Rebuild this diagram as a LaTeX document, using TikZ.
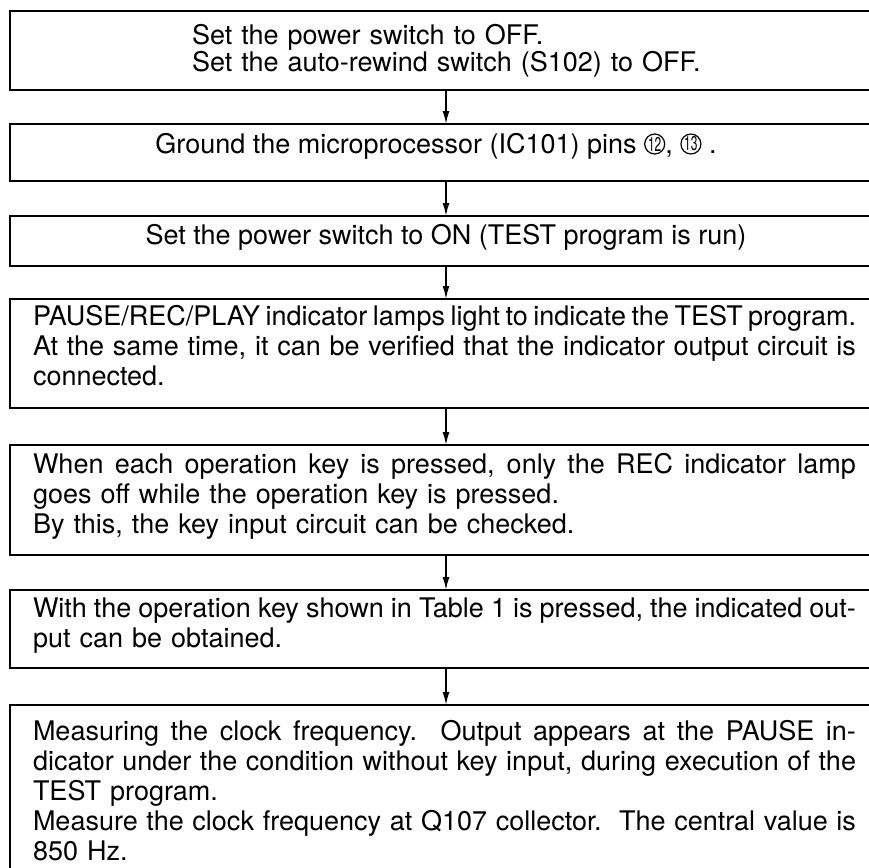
\documentclass[tikz,border=0pt]{standalone}
\usepackage{fontspec}
\setmainfont{TeX Gyre Heros}
\usetikzlibrary{arrows.meta}
\newcommand\circnum[1]{\tikz[baseline=-9pt,x=1pt,y=1pt]{\draw[line width=1.2pt] (0,0) circle (10pt); \path (0,0) node[inner sep=0pt,anchor=center]{\fontsize{20}{20}\selectfont\scalebox{0.6}[1]{#1}};}}
\newcommand\jl[1]{\makebox[823pt][s]{\spaceskip=0.278em plus 1.5em minus 0.12em\relax #1}}
\begin{document}
\begin{tikzpicture}[x=1pt,y=-1pt,
  box/.style={draw,line width=1.7pt,anchor=north west,minimum width=880pt,inner sep=0pt,outer sep=0pt},
  txt/.style={inner sep=0pt,outer sep=0pt,font=\fontsize{27}{30}\selectfont},
  para/.style={txt,anchor=base west,text width=823pt,align=left},
  arr/.style={line width=1.6pt,-{Latex[length=13pt,width=7pt]}}]
\useasboundingbox (0,0) rectangle (869,867);
\fill[white] (0,0) rectangle (869,867);
\coordinate (ax) at (446,0);
% boxes
\node[box,minimum height=79pt]  (b1) at (10,11) {};
\node[box,minimum height=57pt]  (b2) at (10,124) {};
\node[box,minimum height=50pt]  (b3) at (10,216) {};
\node[box,minimum height=109pt] (b4) at (10,299) {};
\node[box,minimum height=110pt] (b5) at (10,445) {};
\node[box,minimum height=78pt]  (b6) at (10,590) {};
\node[box,minimum height=190pt] (b7) at (10,705) {};
% arrows
\draw[arr] (b1.south -| ax) -- (b2.north -| ax);
\draw[arr] (b2.south -| ax) -- (b3.north -| ax);
\draw[arr] (b3.south -| ax) -- (b4.north -| ax);
\draw[arr] (b4.south -| ax) -- (b5.north -| ax);
\draw[arr] (b5.south -| ax) -- (b6.north -| ax);
\draw[arr] (b6.south -| ax) -- (b7.north -| ax);
% texts
\node[txt,anchor=base west,text width=600pt,align=left,font=\fontsize{27}{26.5}\selectfont] (t1) at (192,45)
  {Set the power switch to OFF.\\Set the auto-rewind switch (S102) to OFF.};
\node[txt,anchor=base] (t2) at (436,153)
  {Ground the microprocessor (IC101) pins \circnum{12}, \circnum{13} .};
\node[txt,anchor=base] (t3) at (446,244)
  {Set the power switch to ON (TEST program is run)};
\node[para] (t4) at (33,325)
  {\jl{PAUSE/REC/PLAY indicator lamps light to indicate the TEST program.}\\
   \jl{At the same time, it can be verified that the indicator output circuit is}\\
   connected.};
\node[para] (t5) at (33,473)
  {\jl{When each operation key is pressed, only the REC indicator lamp}\\
   goes off while the operation key is pressed.\\
   By this, the key input circuit can be checked.};
\node[para] (t6) at (33,617)
  {\jl{With the operation key shown in Table 1 is pressed, the indicated out-}\\
   put can be obtained.};
\node[para] (t7) at (33,740)
  {\jl{Measuring the clock frequency.\ \ Output appears at the PAUSE in-}\\
   \jl{dicator under the condition without key input, during execution of the}\\
   TEST program.\\
   \jl{Measure the clock frequency at Q107 collector.\ \ The central value is}\\
   850 Hz.};
\end{tikzpicture}
\end{document}
